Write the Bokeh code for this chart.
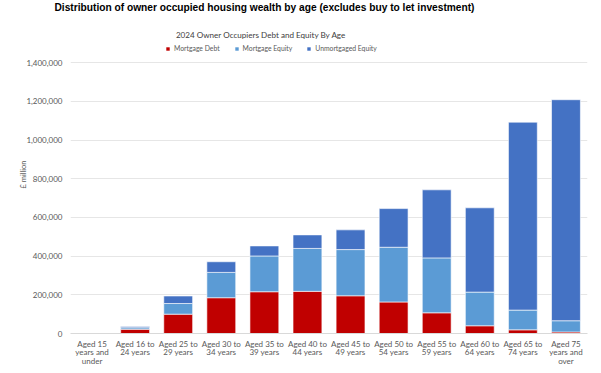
from bokeh.plotting import figure
from bokeh.models import (ColumnDataSource, FactorRange, Range1d, NumeralTickFormatter,
                          Legend, LegendItem, Label, FixedTicker)
from bokeh.embed import file_html
from bokeh.resources import INLINE

categories = ["Aged 15\nyears and\nunder", "Aged 16 to\n24 years", "Aged 25 to\n29 years",
              "Aged 30 to\n34 years", "Aged 35 to\n39 years", "Aged 40 to\n44 years",
              "Aged 45 to\n49 years", "Aged 50 to\n54 years", "Aged 55 to\n59 years",
              "Aged 60 to\n64 years", "Aged 65 to\n74 years", "Aged 75\nyears and\nover"]
mortgage_debt = [0, 22000, 100000, 185000, 216000, 218000, 195000, 163000, 107000, 40000, 19000, 8000]
mortgage_equity = [0, 8000, 55000, 131000, 185000, 222000, 239000, 283000, 284000, 174000, 102000, 58000]
unmortgaged_equity = [0, 6000, 39000, 55000, 52000, 70000, 102000, 200000, 352000, 436000, 972000, 1143000]
series = ["Mortgage Debt", "Mortgage Equity", "Unmortgaged Equity"]
colors = ["#C00000", "#5B9BD5", "#4472C4"]
y_ticks = [0, 200000, 400000, 600000, 800000, 1000000, 1200000, 1400000]

source = ColumnDataSource(dict(cat=categories, **{
    "Mortgage Debt": mortgage_debt,
    "Mortgage Equity": mortgage_equity,
    "Unmortgaged Equity": unmortgaged_equity,
}))

W, H = 601, 373
TOP, BOTTOM, LEFT, RIGHT = 15, 40, 70, 14
frame_h = H - TOP - BOTTOM
zero_px = H - BOTTOM          # pixel row of value 0
top_grid_px = 62.3            # pixel row of the highest gridline
y_max = y_ticks[-1] * frame_h / (zero_px - top_grid_px)

p = figure(width=W, height=H, output_backend="svg", toolbar_location=None,
           x_range=FactorRange(factors=categories, range_padding=0),
           y_range=Range1d(0, y_max),
           min_border_left=LEFT, min_border_right=RIGHT,
           min_border_top=TOP, min_border_bottom=BOTTOM)
p.outline_line_color = None
p.background_fill_color = "white"
p.border_fill_color = "white"

renderers = p.vbar_stack(series, x="cat", width=0.67, source=source, color=colors,
                         line_color="white", line_alpha=0.6, line_width=1)

FONT = "Lato"
# title
p.title.text = "Distribution of owner occupied housing wealth by age (excludes buy to let investment)"
p.title.align = "left"
p.title.offset = -16
p.title.vertical_align = "top"
p.title.text_font = "Liberation Sans"
p.title.text_font_style = "bold"
p.title.text_font_size = "10.2px"
p.title.text_color = "#000000"
p.title.standoff = 2

# y axis
p.yaxis.ticker = FixedTicker(ticks=y_ticks)
p.yaxis.formatter = NumeralTickFormatter(format="0,0")
p.yaxis.axis_line_color = None
p.yaxis.major_tick_line_color = None
p.yaxis.major_tick_out = 0
p.yaxis.major_tick_in = 0
p.yaxis.minor_tick_line_color = None
p.yaxis.major_label_text_font = FONT
p.yaxis.major_label_text_font_size = "8px"
p.yaxis.major_label_text_color = "#595959"
p.yaxis.major_label_standoff = 8
p.yaxis.axis_label = "£ million"
p.yaxis.axis_label_text_font = FONT
p.yaxis.axis_label_text_font_size = "7.5px"
p.yaxis.axis_label_text_font_style = "normal"
p.yaxis.axis_label_text_color = "#595959"
p.yaxis.axis_label_standoff = -5

# x axis
p.xaxis.axis_line_color = "#D9D9D9"
p.xaxis.major_tick_line_color = None
p.xaxis.major_tick_out = 0
p.xaxis.major_tick_in = 0
p.xaxis.minor_tick_line_color = None
p.xaxis.major_label_text_font = FONT
p.xaxis.major_label_text_font_size = "8px"
p.xaxis.major_label_text_color = "#595959"
p.xaxis.major_label_text_line_height = 0.88
p.xaxis.major_label_standoff = 5
p.xaxis.major_label_orientation = "horizontal"

p.xgrid.grid_line_color = None
p.ygrid.grid_line_color = "#E6E6E6"
p.ygrid.grid_line_width = 1

legend = Legend(items=[LegendItem(label=s, renderers=[r]) for s, r in zip(series, renderers)],
                orientation="horizontal", location=(95, zero_px - 52),
                glyph_width=5, glyph_height=5, label_height=8, label_standoff=4, spacing=14,
                padding=0, margin=0, border_line_color=None, background_fill_alpha=0,
                label_text_font=FONT, label_text_font_size="6.8px", label_text_color="#595959")
p.add_layout(legend)

p.add_layout(Label(x=190.5, y=zero_px - 34, x_units="screen", y_units="screen",
                   text="2024 Owner Occupiers Debt and Equity By Age",
                   text_align="center", text_baseline="middle", text_font=FONT,
                   text_font_size="8.1px", text_color="#404040"))

open("out.html", "w").write(file_html(p, INLINE))
